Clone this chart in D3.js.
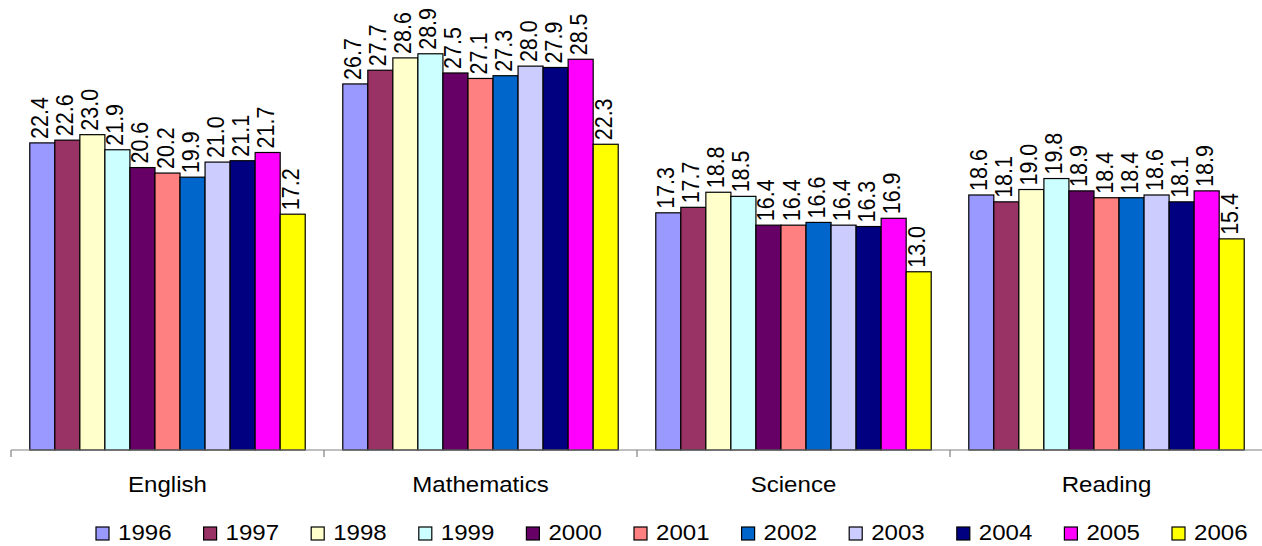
<!DOCTYPE html>
<html><head><meta charset="utf-8">
<script src="https://cdn.jsdelivr.net/npm/d3@7"></script>
<style>body{margin:0;background:#fff}svg{display:block}text{font-family:"Liberation Sans",Arial,sans-serif;fill:#000}</style>
</head><body>
<svg id="c" width="1262" height="546"></svg>
<script>
const categories = ["English", "Mathematics", "Science", "Reading"];
const years = ["1996","1997","1998","1999","2000","2001","2002","2003","2004","2005","2006"];
const colors = ["#9999FF","#993366","#FFFFCC","#CCFFFF","#660066","#FF8080","#0066CC","#CCCCFF","#000080","#FF00FF","#FFFF00"];
const english = [22.4, 22.6, 23.0, 21.9, 20.6, 20.2, 19.9, 21.0, 21.1, 21.7, 17.2];
const mathematics = [26.7, 27.7, 28.6, 28.9, 27.5, 27.1, 27.3, 28.0, 27.9, 28.5, 22.3];
const science = [17.3, 17.7, 18.8, 18.5, 16.4, 16.4, 16.6, 16.4, 16.3, 16.9, 13.0];
const reading = [18.6, 18.1, 19.0, 19.8, 18.9, 18.4, 18.4, 18.6, 18.1, 18.9, 15.4];
const seriesByCat = [english, mathematics, science, reading];

const svg = d3.select("#c");
const FS = 21.5, SX = 1.12;
const x0 = d3.scaleBand().domain(categories).range([11, 1263]).paddingInner(0).paddingOuter(0);
const x1 = d3.scaleBand().domain(years).range([0, x0.bandwidth()]).paddingInner(0).paddingOuter(0.75);
const y = d3.scaleLinear().domain([0, 30]).range([450, 450 - 30 * 13.71]);

const g = svg.append("g");
categories.forEach((cat, ci) => {
  const vals = seriesByCat[ci];
  const cg = g.append("g").attr("transform", `translate(${x0(cat)},0)`);
  cg.selectAll("rect").data(vals).join("rect")
    .attr("x", (d, i) => x1(years[i]))
    .attr("y", d => y(d))
    .attr("width", x1.bandwidth())
    .attr("height", d => y(0) - y(d))
    .attr("fill", (d, i) => colors[i])
    .attr("stroke", "#000").attr("stroke-width", 1.2);
  cg.selectAll("text.v").data(vals).join("text").attr("class", "v")
    .attr("transform", (d, i) => `translate(${x1(years[i]) + x1.bandwidth() / 2 + 6},${y(d) - 4}) scale(${SX},1) rotate(-90)`)
    .attr("font-size", FS)
    .attr("text-anchor", "start")
    .text(d => d.toFixed(1));
});

// axis
const axis = svg.append("g").attr("transform", "translate(0,450)");
axis.append("line").attr("x1", 11).attr("x2", 1263).attr("y1", 0).attr("y2", 0).attr("stroke", "#808080").attr("stroke-width", 1.2);
const bounds = categories.map(c => x0(c)).concat([x0.range()[1]]);
axis.selectAll("line.t").data(bounds).join("line").attr("class", "t")
  .attr("x1", d => d).attr("x2", d => d).attr("y1", 0).attr("y2", 7)
  .attr("stroke", "#808080").attr("stroke-width", 1.2);
svg.selectAll("text.cat").data(categories).join("text").attr("class", "cat")
  .attr("transform", d => `translate(${x0(d) + x0.bandwidth() / 2},492) scale(${SX},1)`)
  .attr("font-size", FS).attr("text-anchor", "middle").text(d => d);

// legend
const lg = svg.append("g");
const lx = d3.scaleLinear().domain([0, years.length - 1]).range([96, 1172]);
years.forEach((yr, i) => {
  lg.append("rect").attr("x", lx(i)).attr("y", 527).attr("width", 13).attr("height", 13)
    .attr("fill", colors[i]).attr("stroke", "#000").attr("stroke-width", 1.2);
  lg.append("text").attr("transform", `translate(${lx(i) + 22},540) scale(${SX},1)`)
    .attr("font-size", FS).text(yr);
});
</script>
</body></html>
